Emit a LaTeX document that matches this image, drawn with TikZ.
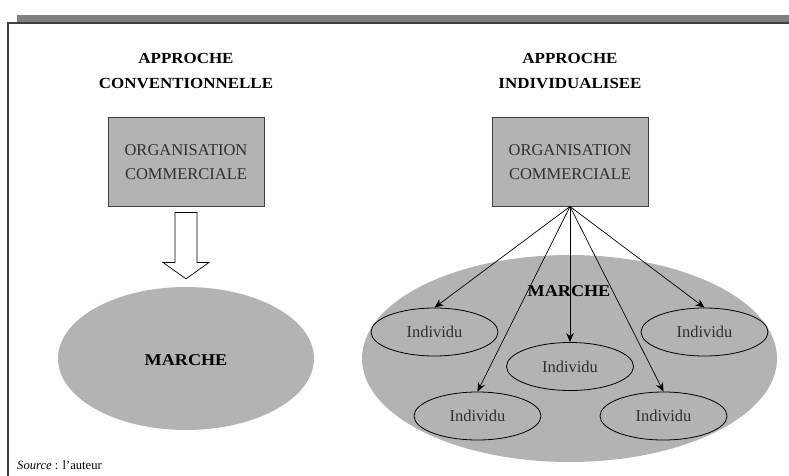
\documentclass[tikz,border=0pt]{standalone}
\usepackage{fontspec}
\setmainfont{Liberation Serif}
\newfontfamily\titlefont[FakeStretch=1.1]{Liberation Serif}
\usetikzlibrary{shapes.geometric,arrows.meta}
\definecolor{fillgray}{HTML}{B3B3B3}
\definecolor{bargray}{HTML}{808080}
\definecolor{framegray}{HTML}{404040}
\definecolor{textgray}{HTML}{303030}
\tikzset{
  title/.style={align=center,font=\titlefont\bfseries\fontsize{15.4}{25}\selectfont},
  orgbox/.style={draw=framegray,line width=1pt,fill=fillgray,minimum width=156pt,minimum height=88pt,
    align=center,text=textgray,font=\fontsize{16.5}{24}\selectfont,inner sep=0pt},
  market/.style={ellipse,fill=fillgray,inner sep=0pt},
  marketlabel/.style={font=\titlefont\bfseries\fontsize{16.5}{20}\selectfont},
  indiv/.style={ellipse,draw=black,line width=0.8pt,fill=fillgray,minimum width=127pt,minimum height=48pt,
    inner sep=0pt,text=textgray,font=\fontsize{16.5}{18}\selectfont},
  link/.style={-{Stealth[length=9pt,width=7.5pt]},line width=0.7pt},
  blockarrow/.style={draw=black,fill=white,line width=0.7pt}
}
\begin{document}
\begin{tikzpicture}[x=1pt,y=-1pt]
\useasboundingbox (0,0) rectangle (789,476);
% frame
\fill[bargray] (17,15) rectangle (789,22);
\draw[framegray,line width=1.5pt] (8,476) -- (8,23) -- (789,23);
% left
\node[title] (t1) at (186,71.5) {APPROCHE\\CONVENTIONNELLE};
\node[orgbox] (org1) at (186,162) {ORGANISATION\\COMMERCIALE};
\node[market,minimum width=256pt,minimum height=143pt] (m1) at (186,358.5) {};
\node[marketlabel] (ml1) at (186,360) {MARCHE};
\draw[blockarrow] ([xshift=-11pt,yshift=-6pt]org1.south) -- ([xshift=11pt,yshift=-6pt]org1.south)
  -- ([xshift=11pt,yshift=-56pt]org1.south) -- ([xshift=23pt,yshift=-56pt]org1.south)
  -- ([yshift=8pt]m1.north) -- ([xshift=-23pt,yshift=-56pt]org1.south)
  -- ([xshift=-11pt,yshift=-56pt]org1.south) -- cycle;
% right
\node[title] (t2) at (570,71.5) {APPROCHE\\INDIVIDUALISEE};
\node[orgbox] (org2) at (570,162) {ORGANISATION\\COMMERCIALE};
\node[market,minimum width=415pt,minimum height=207pt] (m2) at (569.5,358.5) {};
\node[indiv] (i1) at (434.5,332) {Individu};
\node[indiv] (i2) at (570,366.5) {Individu};
\node[indiv] (i3) at (704.5,332) {Individu};
\node[indiv] (i4) at (477.5,416) {Individu};
\node[indiv] (i5) at (663.5,416) {Individu};
\node[marketlabel] (ml2) at (569,291) {MARCHE};
\foreach \n in {i1,i2,i3,i4,i5}{
  \draw[link] (org2.south) -- (\n.north);
}
% source
\node[anchor=west,font=\fontsize{12.6}{14}\selectfont,inner sep=0pt] (src) at (17,465) {\textit{Source} : l’auteur};
\end{tikzpicture}
\end{document}
